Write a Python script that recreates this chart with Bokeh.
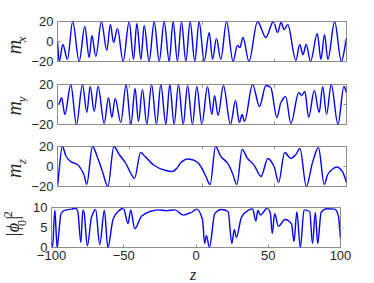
from bokeh.plotting import figure
from bokeh.layouts import column, row
from bokeh.models import LinearAxis, FixedTicker, Range1d, ColumnDataSource
from bokeh.core.properties import value
from bokeh.embed import file_html
from bokeh.resources import INLINE

# ---------------- data ----------------
z_ticks = [-100, -50, 0, 50, 100]
m_ticks = [-20, 0, 20]
phi_ticks = [0, 5, 10]

z_mx = [-100, -98.8, -96.3, -93.1, -89.5, -85.0, -81.1, -78.1, -76.2, -73.5,
        -69.6, -65.9, -63.4, -61.2, -58.5, -54.6, -50.4, -47.4, -45.1, -42.3,
        -40.0, -36.6, -33.1, -29.6, -26.2, -22.7, -20.0, -17.0, -14.2, -11.2,
        -8.2, -5.0, -2.0, 1.5, 5.0, 7.3, 10.0, 13.0, 17.0, 21.5,
        24.5, 26.2, 28.4, 32.5, 38.4, 44.2, 49.4, 52.3, 54.7, 56.8,
        59.3, 65.0, 67.6, 69.9, 72.1, 75.1, 79.8, 82.3, 84.8, 87.1,
        91.8, 96.4, 100]
mx = [0, -20, -3, -18, 20, -20, 15, -16, 6, -15,
      20, -9, 17, -1, 13, -20, 20, -18, 18, -18,
      16, -20, 20, -20, 20, -20, 20, -20, 20, -20,
      20, -20, 20, -20, 9, -18, 3, -18, 20, -20,
      -4, -6, 4, -20, 20, 4, 20, 9, 19, 12,
      17, -19, -3, -13, -3, -20, 8, -18, 7, -18,
      20, -20, 3]

z_my = [-100, -98.8, -97.2, -94.9, -90.8, -86.9, -82.7, -79.7, -77.4, -74.6,
        -71.9, -67.7, -64.7, -62.4, -60.1, -56.2, -52.5, -49.2, -46.3, -44.0,
        -41.2, -38.2, -34.9, -31.5, -28.5, -25.0, -22.3, -19.3, -16.3, -13.0,
        -10.0, -6.6, -3.6, -0.1, 3.8, 6.8, 8.7, 11.1, 14.8, 19.7,
        23.2, 25.8, 27.8, 29.4, 35.0, 39.8, 44.2, 47.6, 51.8, 54.6,
        57.9, 61.5, 67.0, 69.0, 71.2, 73.8, 77.7, 81.1, 83.5, 86.2,
        89.4, 94.1, 98.2, 100]
my = [0, 1, 7, -10, 20, -20, 20, -8, 18, -7,
      18, -19, 7, -13, 6, -18, 20, -20, 16, -17,
      15, -20, 20, -20, 20, -20, 20, -20, 20, -20,
      19, -20, 18, -20, 18, -10, 9, -11, 19, -20,
      4, -18, -10, -17, 20, -2, 19, 17, -13, 2,
      8, -19, 12, 9, 13, -13, 14, -8, 18, -10,
      20, -20, 18, 12]

z_mz = [-100, -96.6, -94.0, -90.6, -86.2, -83.5, -81.5, -79.8, -75.8, -72.3,
        -68.9, -65.1, -61.0, -57.3, -52.7, -49.2, -46.7, -42.5, -40.0, -33.1,
        -26.2, -20.4, -17.0, -14.6, -10.0, -6.0, -3.0, -0.8, 2.7, 5.6,
        9.4, 13.0, 17.6, 21.1, 24.1, 27.8, 31.5, 36.1, 39.6, 40.8,
        45.6, 49.9, 53.0, 57.2, 61.5, 64.9, 67.8, 72.2, 76.5, 80.6,
        84.6, 87.0, 90.0, 93.3, 97.2, 100]
mz = [-20, 20, 10, 4.6, 2, -3, -9, -18, 20, 9,
      -5, -20, 20, 12, 3, -7, -12, 14, 11, 1,
      -3.5, -5, -1, 4, 7.5, 6.5, 4, 0, -10, -18,
      20, 10, 3.6, -6.7, -18, 17, 8, 1.2, -8, -10,
      8, 0, -16, 14, 8, 12, 18, -20, 4, 19,
      -18, -8, -3, -0.5, -5, -16]

z_phi = [-100, -99.3, -97.7, -96.1, -95.0, -93.4, -90.8, -86.2, -83.0, -81.8,
         -79.7, -78.3, -77.6, -75.2, -72.3, -69.5, -66.6, -63.4, -61.0, -57.3,
         -54.0, -50.3, -47.0, -45.2, -42.4, -37.7, -32.0, -26.2, -20.4, -14.6,
         -8.9, -3.1, 0.5, 4.5, 6.0, 7.2, 9.3, 13.0, 17.6, 22.2,
         24.8, 26.5, 27.9, 31.5, 36.1, 39.2, 41.4, 42.8, 44.6, 49.3,
         51.5, 52.8, 54.4, 57.0, 61.6, 66.1, 67.8, 69.8, 72.2, 74.8,
         78.7, 80.6, 82.6, 84.2, 86.6, 90.5, 96.0, 98.5, 100]
phi = [1.3, 0, 9.3, 0, 3.4, 8.5, 9.3, 9.6, 9.8, 9.0,
       1.3, 9.3, 9.0, 0.4, 7.6, 9.5, 0.7, 9.3, 0, 7.2,
       9.0, 9.8, 6.0, 9.4, 4.7, 7.8, 9.0, 9.4, 9.2, 9.4,
       8.1, 8.8, 9.6, 7.0, 1.0, 3.0, 0, 8.5, 9.5, 9.0,
       1.0, 4.5, 2.5, 7.6, 9.3, 9.7, 6.6, 9.3, 8.1, 9.8,
       8.5, 3.5, 8.5, 5.3, 7.0, 5.9, 1.5, 8.9, 0, 9.4,
       9.0, 1.0, 8.7, 1.0, 8.8, 9.7, 9.6, 8.0, 2.3]

# ---------------- style / layout ----------------
LW = 28          # width of the label strip left of each panel
BL, BR = 23, 30  # panel borders
FW, FH = 289, 40
TICK_FONT = "Liberation Sans"
LBL_FONT = "Liberation Serif"
GRAY = "#262626"
FRAME = "#8c8c8c"
BLUE = "#0000ff"


def smooth_segments(zs, vs):
    """Bezier segments through the read points (monotone tangents, flat at extrema)."""
    n = len(zs)
    h = [zs[i + 1] - zs[i] for i in range(n - 1)]
    d = [(vs[i + 1] - vs[i]) / h[i] for i in range(n - 1)]
    m = [0.0] * n
    m[0], m[-1] = d[0], d[-1]
    for k in range(1, n - 1):
        if d[k - 1] * d[k] <= 0:
            m[k] = 0.0
        else:
            w1, w2 = 2 * h[k] + h[k - 1], h[k] + 2 * h[k - 1]
            m[k] = (w1 + w2) / (w1 / d[k - 1] + w2 / d[k])
    return dict(
        x0=zs[:-1], y0=vs[:-1], x1=zs[1:], y1=vs[1:],
        cx0=[zs[i] + h[i] / 3 for i in range(n - 1)],
        cy0=[vs[i] + m[i] * h[i] / 3 for i in range(n - 1)],
        cx1=[zs[i + 1] - h[i] / 3 for i in range(n - 1)],
        cy1=[vs[i + 1] - m[i + 1] * h[i] / 3 for i in range(n - 1)],
    )


def make_panel(zs, vals, yr, yticks, top, bottom, show_x):
    p = figure(frame_width=FW, frame_height=FH,
               x_range=Range1d(-100, 100), y_range=Range1d(*yr),
               output_backend="svg", toolbar_location=None,
               min_border_left=BL, min_border_right=BR,
               min_border_top=top, min_border_bottom=bottom,
               x_axis_location=None, y_axis_location=None)
    p.grid.visible = False
    p.outline_line_color = FRAME
    p.outline_line_width = 1
    for loc, ticks, labels in (("below", z_ticks, show_x), ("above", z_ticks, False),
                               ("left", yticks, True), ("right", yticks, False)):
        ax = LinearAxis(ticker=FixedTicker(ticks=ticks))
        ax.axis_line_color = None
        ax.major_tick_line_color = FRAME
        ax.major_tick_in = 3
        ax.major_tick_out = 0
        ax.minor_tick_line_color = None
        ax.major_label_text_font = TICK_FONT
        ax.major_label_text_font_size = "13px"
        ax.major_label_text_color = GRAY
        ax.major_label_standoff = 4 if loc == "left" else 3
        if not labels:
            ax.major_label_text_font_size = "0px"
            ax.major_label_text_color = None
            ax.major_label_standoff = 0
        p.add_layout(ax, loc)
    src = ColumnDataSource(smooth_segments(zs, vals))
    p.bezier("x0", "y0", "x1", "y1", "cx0", "cy0", "cx1", "cy1", source=src,
             line_color=BLUE, line_width=1.4)
    return p


def label_strip(height, pieces, width=LW, rotate=True):
    s = figure(width=width, height=height, x_range=Range1d(0, width),
               y_range=Range1d(height, 0), output_backend="svg", toolbar_location=None,
               min_border=0, x_axis_location=None, y_axis_location=None)
    s.grid.visible = False
    s.outline_line_color = None
    for (x, y, txt, size, italic) in pieces:
        s.text(x=[x], y=[y], text=[txt], angle=1.5708 if rotate else 0,
               text_align="center", text_baseline="middle",
               text_font=value(LBL_FONT), text_font_size=size,
               text_font_style="italic" if italic else "normal", text_color=GRAY)
    return s


yr_m = (-20, 20)
yr_phi = (0, 10)
tops = [21, 12, 12, 12]
bottoms = [11, 10, 9, 18]
p1 = make_panel(z_mx, mx, yr_m, m_ticks, tops[0], bottoms[0], False)
p2 = make_panel(z_my, my, yr_m, m_ticks, tops[1], bottoms[1], False)
p3 = make_panel(z_mz, mz, yr_m, m_ticks, tops[2], bottoms[2], False)
p4 = make_panel(z_phi, phi, yr_phi, phi_ticks, tops[3], bottoms[3], True)

rows = []
for p, sub, t, b in ((p1, "x", tops[0], bottoms[0]), (p2, "y", tops[1], bottoms[1]),
                     (p3, "z", tops[2], bottoms[2])):
    strip = label_strip(t + FH + b, [(13.5, t + 25, "m", "20px", True),
                                     (21, t + 11, sub, "13px", True)])
    rows.append(row(strip, p, spacing=0))

t4 = tops[3]
strip4 = label_strip(t4 + FH + bottoms[3], [
    (12, t4 + 35, "|", "18px", False),
    (12, t4 + 23, "\u03d5", "18px", True),
    (21, t4 + 15, "0", "12px", False),
    (12, t4 + 6, "|", "18px", False),
    (7, t4 + 0, "2", "12px", False),
])
rows.append(row(strip4, p4, spacing=0))

zstrip = label_strip(17, [(LW + BL + FW / 2 - 3, 8.5, "z", "16px", True)],
                     width=LW + BL + FW + BR, rotate=False)
rows.append(zstrip)

layout = column(*rows, spacing=0)
open("out.html", "w").write(file_html(layout, INLINE))
